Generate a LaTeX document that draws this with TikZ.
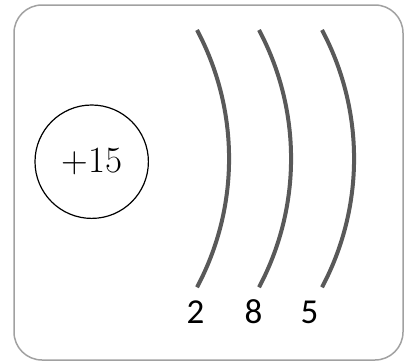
\documentclass[tikz,border=0pt]{standalone}
\usepackage{fontspec}
\newfontfamily\numfont{Carlito}
\begin{document}
\begin{tikzpicture}[x=1pt,y=-1pt,
  frame/.style={draw=black!37, line width=1.5pt, rounded corners=28pt},
  nucleus/.style={circle, draw=black, line width=1.2pt, minimum size=113.4pt, inner sep=0pt, font=\fontsize{37}{44}\selectfont},
  shell/.style={draw=black!65, line width=4pt, line cap=butt},
  count/.style={anchor=base, inner sep=0pt, font=\numfont\fontsize{35}{42}\selectfont}]
\useasboundingbox (0,0) rectangle (405,362);
\draw[frame] (14,5) rectangle (403,360);
\node[nucleus] (n) at (91.7,161.7) {+15};
\draw[shell] (197,30) arc[start angle=-28, end angle=28, radius=274];
\draw[shell] (259,30) arc[start angle=-28, end angle=28, radius=274];
\draw[shell] (322,30) arc[start angle=-28, end angle=28, radius=274];
\node[count] (c1) at (195.5,323) {2};
\node[count] (c2) at (253.5,323) {8};
\node[count] (c3) at (309.5,323) {5};
\end{tikzpicture}
\end{document}
